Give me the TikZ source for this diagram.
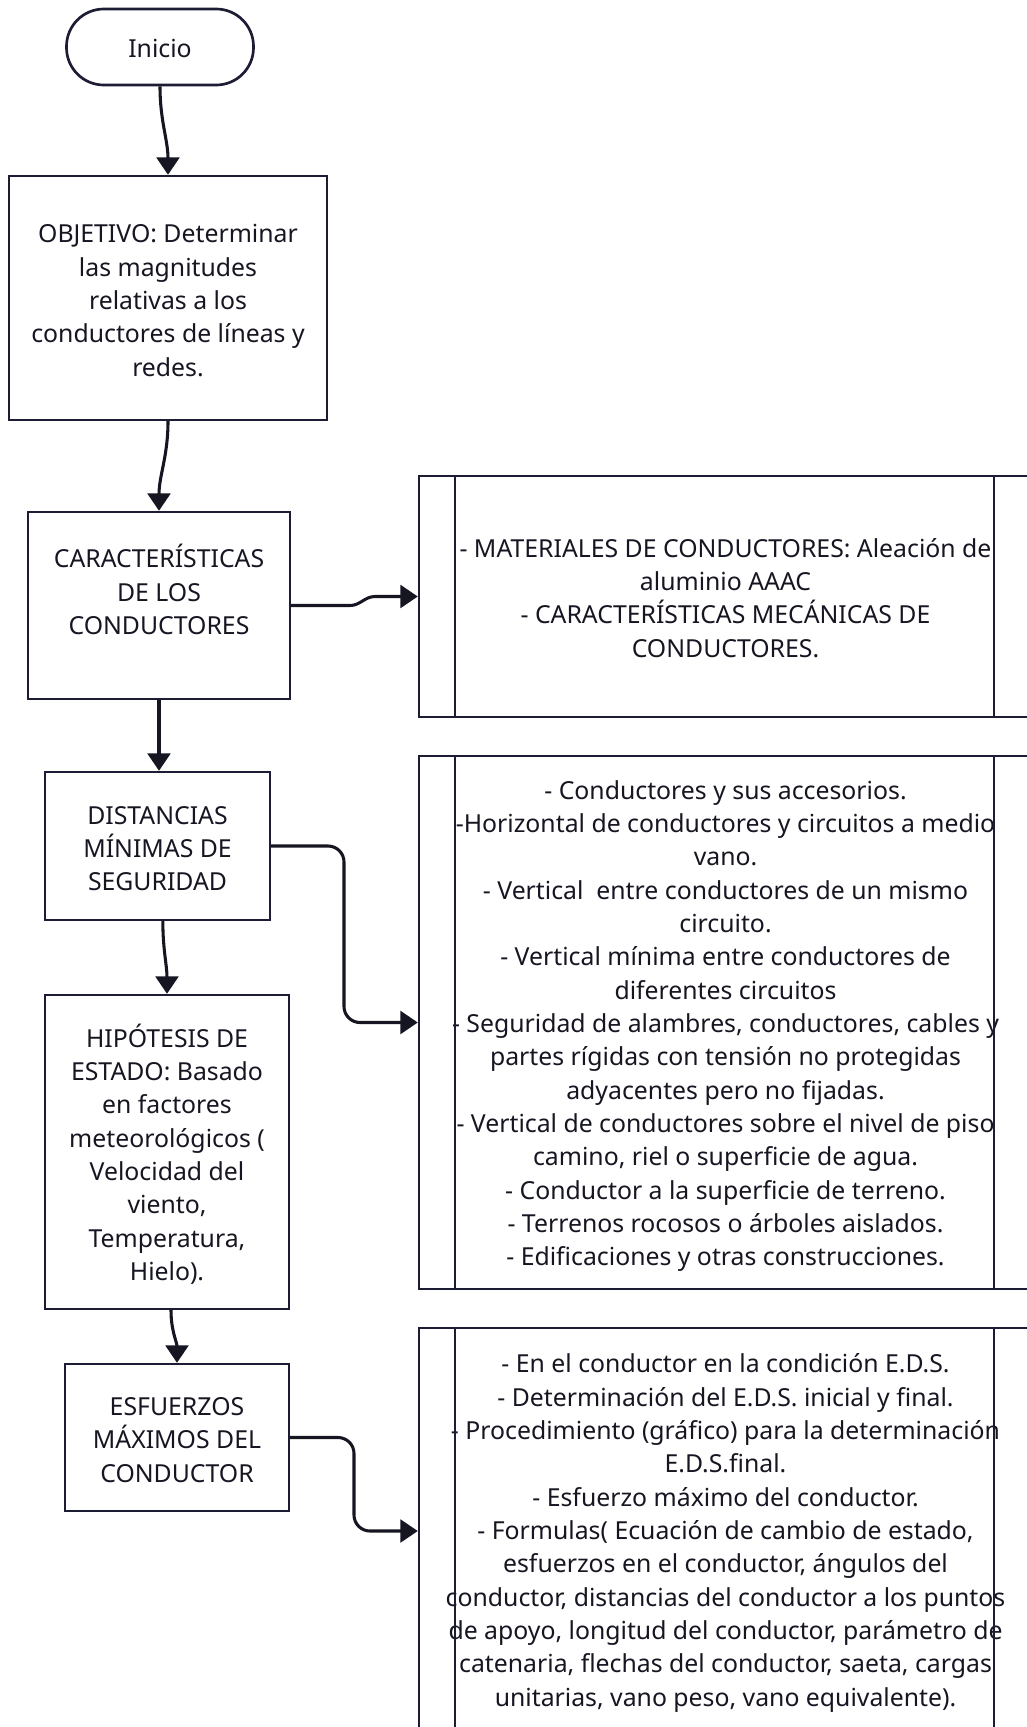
\documentclass[tikz,border=0pt]{standalone}
\usepackage{fontspec}
\setmainfont{Noto Sans}
\usetikzlibrary{arrows.meta,calc}
\definecolor{ink}{RGB}{28,28,52}
\definecolor{txtc}{RGB}{22,22,34}
\begin{document}
\begin{tikzpicture}[x=0.75pt,y=-0.75pt,
  box/.style={draw=ink,line width=1.8pt,rectangle,inner sep=0pt},
  txt/.style={align=center,text=txtc,inner sep=0pt,font=\fontsize{18.6}{25}\selectfont},
  conn/.style={draw=txtc,line width=2.3pt,-{Triangle[width=17pt,length=13pt]}},
  inner/.style={draw=ink,line width=1.8pt}
]
\useasboundingbox (0,0) rectangle (1027,1727);
\clip (0,0) rectangle (1027,1727);

% left column
\node[box,rounded corners=28pt,line width=2pt,minimum width=140.25pt,minimum height=57pt] (inicio) at (160,47) {};
\node[txt] (inicioT) at (160,48) {Inicio};
\node[box,minimum width=238.5pt,minimum height=183pt] (obj) at (168,298) {};
\node[txt] (objT) at (168,300.5)
  {OBJETIVO: Determinar\\las magnitudes\\relativas a los\\conductores de líneas y\\redes.};
\node[box,minimum width=196.5pt,minimum height=140.25pt] (car) at (159,605.5) {};
\node[txt] (carT) at (159,589.5) {CARACTERÍSTICAS\\DE LOS\\CONDUCTORES};
\node[box,minimum width=168.75pt,minimum height=111pt] (dist) at (157.5,846) {};
\node[txt] (distT) at (157.5,848.5) {DISTANCIAS\\MÍNIMAS DE\\SEGURIDAD};
\node[box,minimum width=183pt,minimum height=235.5pt] (hip) at (167,1152) {};
\node[txt] (hipT) at (167,1154)
  {HIPÓTESIS DE\\ESTADO: Basado\\en factores\\meteorológicos (\\Velocidad del\\viento,\\Temperatura,\\Hielo).};
\node[box,minimum width=168pt,minimum height=110.25pt] (esf) at (177,1437.5) {};
\node[txt] (esfT) at (177,1440) {ESFUERZOS\\MÁXIMOS DEL\\CONDUCTOR};

% right column
\node[box,minimum width=465.75pt,minimum height=180.75pt] (r1) at (729.5,596.5) {};
\node[box,minimum width=465.75pt,minimum height=399.75pt] (r2) at (729.5,1022.5) {};
\node[box,minimum width=465.75pt,minimum height=304.5pt] (r3) at (729.5,1531) {};

\node[txt] (t1) at (725.5,598)
  {- MATERIALES DE CONDUCTORES: Aleación de\\aluminio AAAC\\- CARACTERÍSTICAS MECÁNICAS DE\\CONDUCTORES.};
\node[txt] (t2) at (725.5,1026)
  {- Conductores y sus accesorios.\\-Horizontal de conductores y circuitos a medio\\vano.\\- Vertical\ \ entre conductores de un mismo\\circuito.\\- Vertical mínima entre conductores de\\diferentes circuitos\\- Seguridad de alambres, conductores, cables y\\partes rígidas con tensión no protegidas\\adyacentes pero no fijadas.\\- Vertical de conductores sobre el nivel de piso\\camino, riel o superficie de agua.\\- Conductor a la superficie de terreno.\\- Terrenos rocosos o árboles aislados.\\- Edificaciones y otras construcciones.};
\node[txt] (t3) at (725.5,1533)
  {- En el conductor en la condición E.D.S.\\- Determinación del E.D.S. inicial y final.\\- Procedimiento (gráfico) para la determinación\\E.D.S.final.\\- Esfuerzo máximo del conductor.\\- Formulas( Ecuación de cambio de estado,\\esfuerzos en el conductor, ángulos del\\conductor, distancias del conductor a los puntos\\de apoyo, longitud del conductor, parámetro de\\catenaria, flechas del conductor, saeta, cargas\\unitarias, vano peso, vano equivalente).};

\foreach \r in {r1,r2,r3}{
  \draw[inner] ($(\r.north west)+(37,0)$) -- ($(\r.south west)+(37,0)$);
  \draw[inner] ($(\r.north west)+(576,0)$) -- ($(\r.south west)+(576,0)$);
}

% connectors
\draw[conn] (inicio.south) to[out=-90,in=90] (obj.north);
\draw[conn] (obj.south) to[out=-90,in=90] (car.north);
\draw[conn] (car.south) -- (car.south |- dist.north);
\draw[conn] ([xshift=4pt]dist.south) to[out=-90,in=90] (hip.north);
\draw[conn] ([xshift=3pt]hip.south) to[out=-90,in=90] (esf.north);

\coordinate (c1) at (375,596.5);
\draw[conn] (car.east) -- (350,605.5) to[out=0,in=180] (c1) -- (r1.west);
\draw[conn,rounded corners=12pt] (dist.east) -| (344,1022.5) -- (r2.west);
\draw[conn,rounded corners=12pt] (esf.east) -| (354,1531) -- (r3.west);
\end{tikzpicture}
\end{document}
